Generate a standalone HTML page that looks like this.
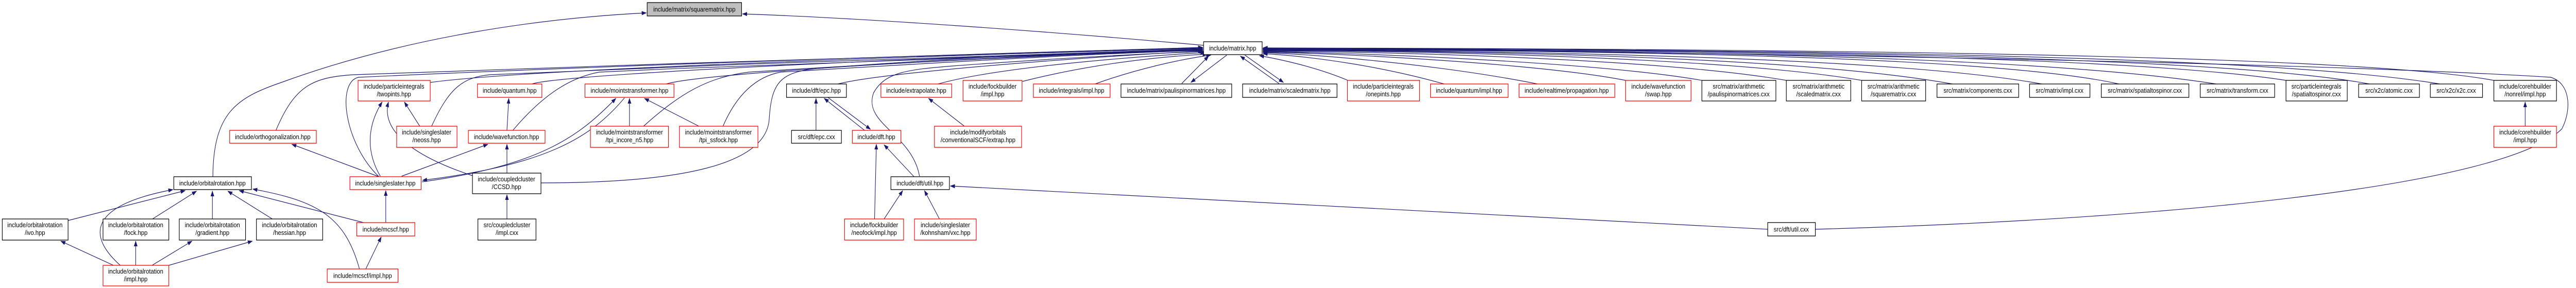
<!DOCTYPE html>
<html><head><meta charset="utf-8"><style>
html,body{margin:0;padding:0;background:#fff;width:100%;height:100%;overflow:hidden;}
svg{display:block;width:100vw;height:100vh;}
text{font-family:"Liberation Sans",sans-serif;font-size:12.8px;fill:#000;}
</style></head><body>
<svg xmlns="http://www.w3.org/2000/svg" viewBox="0 0 5676 559" preserveAspectRatio="none" overflow="hidden">
<defs>
<marker id="a" markerWidth="11" markerHeight="8" refX="10" refY="4" orient="auto" markerUnits="userSpaceOnUse"><path d="M0,0 L11,4 L0,8z" fill="#191970"/></marker>
</defs>
<rect width="5676" height="559" fill="#fff"/>
<g fill="none" stroke="#191970" stroke-width="1.2" marker-end="url(#a)">
<path d="M2652,88 C2300,60 1900,35 1636,27"/>
<path d="M469,343 C470,220 520,190 620,160 C900,70 1200,35 1424,25"/>
<path d="M608,253 C650,165 690,150 780,145 C1400,125 2300,100 2650,92"/>
<path d="M835,343 C760,280 740,160 790,150 C1400,125 2300,100 2650,93"/>
<path d="M948,160 C1200,130 2300,102 2650,94"/>
<path d="M951,245 C990,170 1020,150 1080,145 C1600,125 2300,102 2650,95"/>
<path d="M1172,163 C1250,140 2300,103 2650,96"/>
<path d="M1130,253 C1200,180 1260,150 1320,140 C1800,120 2300,104 2650,96"/>
<path d="M1468,163 C1550,140 2300,104 2650,97"/>
<path d="M1418,245 C1500,180 1560,150 1650,140 C2000,120 2400,104 2650,97"/>
<path d="M1593,245 C1620,190 1660,150 1720,140 C2100,120 2400,104 2650,98"/>
<path d="M1192,355 C1500,355 1690,320 1695,230 C1700,160 1720,140 1800,133 C2100,112 2400,100 2650,98"/>
<path d="M1846,163 C1950,140 2400,110 2650,99"/>
<path d="M2026,342 C2010,260 1900,240 1925,180 C1950,140 2000,135 2100,128 C2300,115 2500,105 2652,100"/>
<path d="M2067,163 C2200,130 2500,110 2655,102"/>
<path d="M2253,158 C2400,125 2550,110 2660,105"/>
<path d="M2413,163 C2500,135 2600,115 2668,107"/>
<path d="M2604,162 L2663,109"/>
<path d="M2703,107 L2624,160"/>
<path d="M2818,162 L2733,109"/>
<path d="M2743,107 L2828,160"/>
<path d="M2970,156 C2900,130 2820,115 2775,108"/>
<path d="M3182,163 C3050,130 2900,110 2783,104"/>
<path d="M3388,163 C3200,130 2950,108 2783,102"/>
<path d="M3582,156 C3400,125 3000,105 2783,101"/>
<path d="M3750,156 C3550,125 3100,105 2783,100"/>
<path d="M3936,156 C3700,120 3200,102 2783,99"/>
<path d="M4102,156 C3850,118 3300,100 2783,98"/>
<path d="M4302,163 C4000,115 3400,100 2783,97"/>
<path d="M4499,163 C4200,115 3500,100 2783,96"/>
<path d="M4669,163 C4400,110 3600,98 2783,96"/>
<path d="M4883,163 C4500,110 3700,98 2783,95"/>
<path d="M5037,156 C4700,110 3800,97 2783,95"/>
<path d="M5221,163 C4900,110 3900,96 2783,94"/>
<path d="M5376,163 C5000,108 4000,96 2783,94"/>
<path d="M5495,156 C5200,108 4100,95 2783,93"/>
<path d="M4000,445 C4800,425 5520,360 5645,250 C5668,210 5662,160 5620,150 C5000,115 3200,96 2783,93"/>
<path d="M835,343 L643,280"/>
<path d="M838,342 C810,300 805,250 842,198"/>
<path d="M1041,341 C900,300 840,250 856,198"/>
<path d="M925,245 L891,198"/>
<path d="M885,342 L1075,280"/>
<path d="M850,432 L850,370"/>
<path d="M801,432 L527,370"/>
<path d="M792,522 C760,420 700,390 557,367"/>
<path d="M806,522 L840,460"/>
<path d="M150,428 L408,370"/>
<path d="M336,425 L433,371"/>
<path d="M468,425 L468,371"/>
<path d="M600,425 L502,371"/>
<path d="M265,515 C195,460 190,400 381,368"/>
<path d="M250,515 L134,468"/>
<path d="M299,515 L299,468"/>
<path d="M335,515 L423,468"/>
<path d="M372,515 L556,468"/>
<path d="M1117,253 L1121,191"/>
<path d="M1117,336 L1117,280"/>
<path d="M1117,425 L1117,378"/>
<path d="M1376,190 C1300,270 1200,320 931,350"/>
<path d="M930,353 C1200,320 1280,260 1357,191"/>
<path d="M1387,245 L1387,191"/>
<path d="M1540,245 L1420,191"/>
<path d="M1798,253 L1798,191"/>
<path d="M1905,253 L1816,191"/>
<path d="M1824,189 L1918,251"/>
<path d="M1927,425 L1931,280"/>
<path d="M1948,425 L1989,370"/>
<path d="M2070,425 L2037,370"/>
<path d="M2014,343 L1948,281"/>
<path d="M3895,445 L2094,361"/>
<path d="M2125,245 L2046,191"/>
<path d="M5564,245 L5564,198"/>
</g>
<g stroke-width="1.3">
<rect x="1426" y="5" width="208" height="26" fill="#bfbfbf" stroke="#000"/>
<text x="1530" y="22.5" text-anchor="middle">include/matrix/squarematrix.hpp</text>
<rect x="2652" y="81" width="129" height="25" fill="#fff" stroke="#000"/>
<text x="2716" y="98" text-anchor="middle">include/matrix.hpp</text>
<g fill="#fff">
<rect x="789" y="156" width="159" height="40" stroke="#f00"/>
<rect x="1052" y="163" width="142" height="26" stroke="#f00"/>
<rect x="1289" y="163" width="196" height="26" stroke="#f00"/>
<rect x="1733" y="163" width="132" height="26" stroke="#000"/>
<rect x="1941" y="163" width="156" height="26" stroke="#f00"/>
<rect x="2122" y="156" width="130" height="40" stroke="#f00"/>
<rect x="2277" y="163" width="169" height="26" stroke="#f00"/>
<rect x="2470" y="163" width="244" height="26" stroke="#000"/>
<rect x="2738" y="163" width="208" height="26" stroke="#000"/>
<rect x="2969" y="156" width="159" height="40" stroke="#f00"/>
<rect x="3152" y="163" width="171" height="26" stroke="#f00"/>
<rect x="3347" y="163" width="211" height="26" stroke="#f00"/>
<rect x="3582" y="156" width="144" height="40" stroke="#f00"/>
<rect x="3750" y="156" width="163" height="40" stroke="#000"/>
<rect x="3936" y="156" width="142" height="40" stroke="#000"/>
<rect x="4102" y="156" width="141" height="40" stroke="#000"/>
<rect x="4268" y="163" width="180" height="26" stroke="#000"/>
<rect x="4472" y="163" width="133" height="26" stroke="#000"/>
<rect x="4630" y="163" width="193" height="26" stroke="#000"/>
<rect x="4848" y="163" width="164" height="26" stroke="#000"/>
<rect x="5037" y="156" width="135" height="40" stroke="#000"/>
<rect x="5197" y="163" width="134" height="26" stroke="#000"/>
<rect x="5355" y="163" width="115" height="26" stroke="#000"/>
<rect x="5495" y="156" width="138" height="40" stroke="#000"/>
<rect x="506" y="253" width="191" height="25" stroke="#f00"/>
<rect x="874" y="245" width="133" height="41" stroke="#f00"/>
<rect x="1032" y="253" width="169" height="25" stroke="#f00"/>
<rect x="1301" y="245" width="172" height="41" stroke="#f00"/>
<rect x="1497" y="245" width="173" height="41" stroke="#f00"/>
<rect x="1744" y="253" width="110" height="25" stroke="#000"/>
<rect x="1878" y="253" width="107" height="25" stroke="#f00"/>
<rect x="2059" y="245" width="192" height="41" stroke="#f00"/>
<rect x="5495" y="245" width="138" height="41" stroke="#f00"/>
<rect x="383" y="343" width="171" height="25" stroke="#000"/>
<rect x="771" y="343" width="157" height="25" stroke="#f00"/>
<rect x="1041" y="336" width="151" height="40" stroke="#000"/>
<rect x="1963" y="343" width="129" height="25" stroke="#000"/>
<rect x="5" y="425" width="145" height="41" stroke="#000"/>
<rect x="227" y="425" width="145" height="41" stroke="#000"/>
<rect x="395" y="425" width="146" height="41" stroke="#000"/>
<rect x="565" y="425" width="146" height="41" stroke="#000"/>
<rect x="786" y="432" width="128" height="26" stroke="#f00"/>
<rect x="1053" y="425" width="128" height="41" stroke="#000"/>
<rect x="1861" y="425" width="130" height="41" stroke="#f00"/>
<rect x="2015" y="425" width="136" height="41" stroke="#f00"/>
<rect x="3895" y="432" width="105" height="26" stroke="#000"/>
<rect x="227" y="515" width="145" height="40" stroke="#f00"/>
<rect x="721" y="522" width="156" height="26" stroke="#f00"/>
</g>
</g>
<g text-anchor="middle">
<text x="868" y="172">include/particleintegrals</text><text x="868" y="187">/twopints.hpp</text>
<text x="1123" y="180">include/quantum.hpp</text>
<text x="1387" y="180">include/mointstransformer.hpp</text>
<text x="1799" y="180">include/dft/epc.hpp</text>
<text x="2019" y="180">include/extrapolate.hpp</text>
<text x="2187" y="172">include/fockbuilder</text><text x="2187" y="187">/impl.hpp</text>
<text x="2361" y="180">include/integrals/impl.hpp</text>
<text x="2592" y="180">include/matrix/paulispinormatrices.hpp</text>
<text x="2842" y="180">include/matrix/scaledmatrix.hpp</text>
<text x="3048" y="172">include/particleintegrals</text><text x="3048" y="187">/onepints.hpp</text>
<text x="3237" y="180">include/quantum/impl.hpp</text>
<text x="3452" y="180">include/realtime/propagation.hpp</text>
<text x="3654" y="172">include/wavefunction</text><text x="3654" y="187">/swap.hpp</text>
<text x="3831" y="172">src/matrix/arithmetic</text><text x="3831" y="187">/paulispinormatrices.cxx</text>
<text x="4007" y="172">src/matrix/arithmetic</text><text x="4007" y="187">/scaledmatrix.cxx</text>
<text x="4172" y="172">src/matrix/arithmetic</text><text x="4172" y="187">/squarematrix.cxx</text>
<text x="4358" y="180">src/matrix/components.cxx</text>
<text x="4538" y="180">src/matrix/impl.cxx</text>
<text x="4726" y="180">src/matrix/spatialtospinor.cxx</text>
<text x="4930" y="180">src/matrix/transform.cxx</text>
<text x="5104" y="172">src/particleintegrals</text><text x="5104" y="187">/spatialtospinor.cxx</text>
<text x="5264" y="180">src/x2c/atomic.cxx</text>
<text x="5412" y="180">src/x2c/x2c.cxx</text>
<text x="5564" y="172">include/corehbuilder</text><text x="5564" y="187">/nonrel/impl.hpp</text>
<text x="601" y="270">include/orthogonalization.hpp</text>
<text x="940" y="261">include/singleslater</text><text x="940" y="276">/neoss.hpp</text>
<text x="1116" y="270">include/wavefunction.hpp</text>
<text x="1387" y="261">include/mointstransformer</text><text x="1387" y="276">/tpi_incore_n5.hpp</text>
<text x="1583" y="261">include/mointstransformer</text><text x="1583" y="276">/tpi_ssfock.hpp</text>
<text x="1799" y="270">src/dft/epc.cxx</text>
<text x="1931" y="270">include/dft.hpp</text>
<text x="2155" y="261">include/modifyorbitals</text><text x="2155" y="276">/conventionalSCF/extrap.hpp</text>
<text x="5564" y="261">include/corehbuilder</text><text x="5564" y="276">/impl.hpp</text>
<text x="468" y="360">include/orbitalrotation.hpp</text>
<text x="849" y="360">include/singleslater.hpp</text>
<text x="1116" y="352">include/coupledcluster</text><text x="1116" y="367">/CCSD.hpp</text>
<text x="2027" y="360">include/dft/util.hpp</text>
<text x="77" y="441">include/orbitalrotation</text><text x="77" y="456">/ivo.hpp</text>
<text x="299" y="441">include/orbitalrotation</text><text x="299" y="456">/fock.hpp</text>
<text x="468" y="441">include/orbitalrotation</text><text x="468" y="456">/gradient.hpp</text>
<text x="638" y="441">include/orbitalrotation</text><text x="638" y="456">/hessian.hpp</text>
<text x="850" y="449.5">include/mcscf.hpp</text>
<text x="1117" y="441">src/coupledcluster</text><text x="1117" y="456">/impl.cxx</text>
<text x="1926" y="441">include/fockbuilder</text><text x="1926" y="456">/neofock/impl.hpp</text>
<text x="2083" y="441">include/singleslater</text><text x="2083" y="456">/kohnsham/vxc.hpp</text>
<text x="3947" y="449.5">src/dft/util.cxx</text>
<text x="299" y="531">include/orbitalrotation</text><text x="299" y="546">/impl.hpp</text>
<text x="799" y="539.5">include/mcscf/impl.hpp</text>
</g>
</svg>
</body></html>
